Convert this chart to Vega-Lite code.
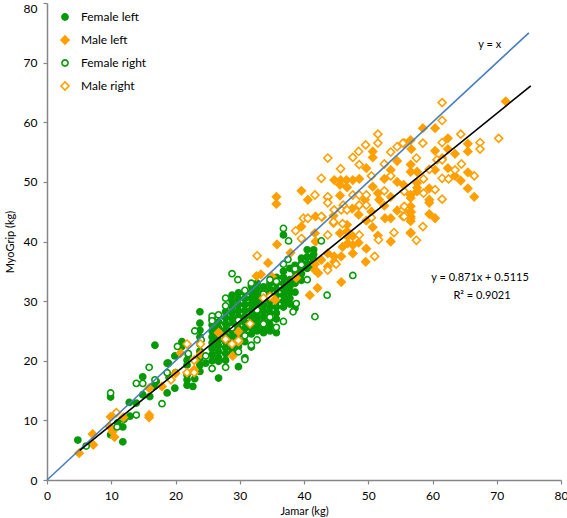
{
"$schema":"https://vega.github.io/schema/vega-lite/v6.json",
"width":514,"height":477,
"autosize":"none",
"padding":{"left":47,"top":3,"right":6,"bottom":38},
"config":{"view":{"stroke":null},"font":"Lato",
 "axis":{"grid":false,"domainColor":"#868686","domainWidth":1.5,"tickColor":"#868686","tickSize":4,"tickWidth":1.2,"labelFont":"Lato","labelFontSize":12,"labelColor":"#000000","titleFont":"Lato","titleFontSize":11,"titleFontWeight":"normal","titleColor":"#000000"}
},
"datasets":{
"names":[{"s":"FL","name":"Female left"},{"s":"ML","name":"Male left"},{"s":"FR","name":"Female right"},{"s":"MR","name":"Male right"}],
"pts":[
{"s":"FL","x":4.8,"y":6.7},{"s":"FL","x":9.9,"y":13.9},{"s":"FL","x":9.9,"y":7.6},{"s":"FL","x":11.8,"y":8.9},{"s":"FL","x":11.8,"y":6.4},{"s":"FL","x":12.8,"y":13.0},{"s":"FL","x":12.9,"y":10.7},{"s":"FL","x":13.9,"y":12.9},{"s":"FL","x":14.9,"y":14.3},{"s":"FL","x":14.9,"y":17.3},{"s":"FL","x":16.8,"y":22.6},{"s":"FL","x":16.7,"y":15.7},{"s":"FL","x":18.7,"y":19.6},{"s":"FL","x":18.7,"y":14.6},{"s":"FL","x":19.9,"y":15.4},{"s":"FL","x":19.9,"y":20.8},{"s":"FL","x":21,"y":23.2},{"s":"FL","x":21,"y":22.4},{"s":"FL","x":21.8,"y":20.1},{"s":"FL","x":21.8,"y":19.3},{"s":"FL","x":21.8,"y":17.6},{"s":"FL","x":21.8,"y":16.8},{"s":"FL","x":21.8,"y":15.9},{"s":"FL","x":22.7,"y":15.7},{"s":"FL","x":18.9,"y":19.6},{"s":"FL","x":12,"y":10.2},{"s":"FL","x":11,"y":9.6},{"s":"FL","x":16,"y":14},{"s":"FL","x":17,"y":16.5},{"s":"FL","x":20,"y":18},{"s":"FL","x":19,"y":17.2},{"s":"FL","x":22,"y":21},{"s":"FL","x":23,"y":17},
{"s":"FL","x":23.8,"y":28.2},{"s":"FL","x":23.8,"y":26.3},{"s":"FL","x":23.8,"y":25.1},{"s":"FL","x":23.8,"y":24},{"s":"FL","x":23.8,"y":22.8},{"s":"FL","x":23.8,"y":21.6},{"s":"FL","x":23.8,"y":20.4},{"s":"FL","x":23.8,"y":19.3},{"s":"FL","x":23.8,"y":18.2},{"s":"FL","x":24.7,"y":19.6},
{"s":"FL","x":25.7,"y":27},{"s":"FL","x":25.7,"y":26},{"s":"FL","x":25.7,"y":25},{"s":"FL","x":25.7,"y":24},{"s":"FL","x":25.7,"y":23},{"s":"FL","x":25.7,"y":22},{"s":"FL","x":25.7,"y":21},{"s":"FL","x":25.7,"y":20},
{"s":"FL","x":26.7,"y":26.5},{"s":"FL","x":26.7,"y":25.5},{"s":"FL","x":26.7,"y":24.5},{"s":"FL","x":26.7,"y":23.5},{"s":"FL","x":26.7,"y":22.5},{"s":"FL","x":26.7,"y":21.5},{"s":"FL","x":26.7,"y":20.5},{"s":"FL","x":26.7,"y":19.9},{"s":"FL","x":26.7,"y":17.1},
{"s":"FL","x":27.8,"y":28.2},{"s":"FL","x":27.8,"y":27.2},{"s":"FL","x":27.8,"y":26.2},{"s":"FL","x":27.8,"y":25.2},{"s":"FL","x":27.8,"y":24.2},{"s":"FL","x":27.8,"y":23.2},{"s":"FL","x":27.8,"y":22.2},{"s":"FL","x":27.8,"y":21.2},{"s":"FL","x":27.8,"y":20.1},
{"s":"FL","x":28.8,"y":31.0},{"s":"FL","x":28.8,"y":30.0},{"s":"FL","x":28.8,"y":29.0},{"s":"FL","x":28.8,"y":28.0},{"s":"FL","x":28.8,"y":27.0},{"s":"FL","x":28.8,"y":26.0},{"s":"FL","x":28.8,"y":25.0},{"s":"FL","x":28.8,"y":24.0},{"s":"FL","x":28.8,"y":23.0},{"s":"FL","x":28.8,"y":22.0},{"s":"FL","x":28.8,"y":21.3},
{"s":"FL","x":29.8,"y":31.4},{"s":"FL","x":29.8,"y":30.4},{"s":"FL","x":29.8,"y":29.4},{"s":"FL","x":29.8,"y":28.4},{"s":"FL","x":29.8,"y":27.4},{"s":"FL","x":29.8,"y":26.4},{"s":"FL","x":29.8,"y":25.4},{"s":"FL","x":29.8,"y":24.4},{"s":"FL","x":29.8,"y":23.4},{"s":"FL","x":29.8,"y":22.4},{"s":"FL","x":29.8,"y":19.0},
{"s":"FL","x":30.8,"y":31.4},{"s":"FL","x":30.8,"y":30.4},{"s":"FL","x":30.8,"y":29.4},{"s":"FL","x":30.8,"y":28.4},{"s":"FL","x":30.8,"y":27.4},{"s":"FL","x":30.8,"y":26.4},{"s":"FL","x":30.8,"y":25.4},{"s":"FL","x":30.8,"y":24.4},{"s":"FL","x":30.8,"y":23.2},{"s":"FL","x":30.8,"y":20.5},
{"s":"FL","x":31.8,"y":32.5},{"s":"FL","x":31.8,"y":31.5},{"s":"FL","x":31.8,"y":30.5},{"s":"FL","x":31.8,"y":29.5},{"s":"FL","x":31.8,"y":28.5},{"s":"FL","x":31.8,"y":27.5},{"s":"FL","x":31.8,"y":26.5},{"s":"FL","x":31.8,"y":25.5},{"s":"FL","x":31.8,"y":24.5},{"s":"FL","x":31.8,"y":22.3},
{"s":"FL","x":32.7,"y":33.0},{"s":"FL","x":32.7,"y":32.0},{"s":"FL","x":32.7,"y":31.0},{"s":"FL","x":32.7,"y":30.0},{"s":"FL","x":32.7,"y":29.0},{"s":"FL","x":32.7,"y":28.0},{"s":"FL","x":32.7,"y":27.0},{"s":"FL","x":32.7,"y":26.0},{"s":"FL","x":32.7,"y":25.0},
{"s":"FL","x":33.7,"y":32.4},{"s":"FL","x":33.7,"y":31.4},{"s":"FL","x":33.7,"y":30.4},{"s":"FL","x":33.7,"y":29.4},{"s":"FL","x":33.7,"y":28.4},{"s":"FL","x":33.7,"y":27.4},{"s":"FL","x":33.7,"y":26.4},{"s":"FL","x":33.7,"y":25.4},{"s":"FL","x":33.7,"y":24.7},
{"s":"FL","x":34.7,"y":33.0},{"s":"FL","x":34.7,"y":32.0},{"s":"FL","x":34.7,"y":31.0},{"s":"FL","x":34.7,"y":30.0},{"s":"FL","x":34.7,"y":29.0},{"s":"FL","x":34.7,"y":28.0},{"s":"FL","x":34.7,"y":27.0},{"s":"FL","x":34.7,"y":26.0},{"s":"FL","x":34.7,"y":25.0},
{"s":"FL","x":35.7,"y":34.0},{"s":"FL","x":35.7,"y":33.0},{"s":"FL","x":35.7,"y":32.0},{"s":"FL","x":35.7,"y":31.0},{"s":"FL","x":35.7,"y":30.0},{"s":"FL","x":35.7,"y":29.0},{"s":"FL","x":35.7,"y":28.0},{"s":"FL","x":35.7,"y":27.0},{"s":"FL","x":35.7,"y":24.7},
{"s":"FL","x":36.8,"y":35.0},{"s":"FL","x":36.8,"y":34.0},{"s":"FL","x":36.8,"y":33.0},{"s":"FL","x":36.8,"y":32.0},{"s":"FL","x":36.8,"y":31.0},{"s":"FL","x":36.8,"y":30.0},{"s":"FL","x":36.8,"y":29.0},{"s":"FL","x":36.8,"y":41.1},
{"s":"FL","x":37.8,"y":35.5},{"s":"FL","x":37.8,"y":33.6},{"s":"FL","x":37.8,"y":32.5},{"s":"FL","x":37.8,"y":31.5},{"s":"FL","x":37.8,"y":30.5},{"s":"FL","x":37.8,"y":29.5},
{"s":"FL","x":38.6,"y":36.0},{"s":"FL","x":38.6,"y":35.0},{"s":"FL","x":38.6,"y":34.0},{"s":"FL","x":38.6,"y":33.0},{"s":"FL","x":38.6,"y":31.5},{"s":"FL","x":38.6,"y":28.8},
{"s":"FL","x":39.6,"y":37.2},{"s":"FL","x":39.6,"y":36.3},{"s":"FL","x":39.6,"y":35.5},{"s":"FL","x":39.6,"y":34.6},{"s":"FL","x":39.6,"y":33.5},
{"s":"FL","x":40.5,"y":38.6},{"s":"FL","x":40.5,"y":37.4},{"s":"FL","x":40.5,"y":36.3},{"s":"FL","x":40.5,"y":35.5},
{"s":"FL","x":41.5,"y":38.6},{"s":"FL","x":41.5,"y":37.8},{"s":"FL","x":41.5,"y":36.9},{"s":"FL","x":41.5,"y":36.1},{"s":"FL","x":41.5,"y":35.6},
{"s":"ML","x":5.0,"y":4.5},{"s":"ML","x":7.1,"y":7.7},{"s":"ML","x":7.2,"y":5.9},{"s":"ML","x":9.8,"y":8.9},{"s":"ML","x":10.2,"y":8.1},{"s":"ML","x":10.5,"y":7.2},{"s":"ML","x":11.9,"y":10.5},{"s":"ML","x":9.9,"y":10.6},{"s":"ML","x":15.9,"y":15.4},{"s":"ML","x":15.9,"y":10.9},{"s":"ML","x":15.9,"y":10.5},{"s":"ML","x":17.9,"y":15.7},{"s":"ML","x":20.8,"y":21.3},{"s":"ML","x":22.9,"y":18.5},{"s":"ML","x":23.9,"y":21.1},{"s":"ML","x":23.0,"y":20.1},{"s":"ML","x":20.0,"y":17.9},{"s":"ML","x":26.7,"y":24.7},{"s":"ML","x":28.9,"y":20.8},{"s":"ML","x":29.8,"y":24.9},{"s":"ML","x":29.8,"y":23.2},{"s":"ML","x":32.6,"y":34.2},{"s":"ML","x":33.3,"y":34.5},{"s":"ML","x":35.0,"y":34.1},{"s":"ML","x":34.4,"y":36.4},{"s":"ML","x":35.5,"y":30.2},{"s":"ML","x":35.8,"y":39.5},{"s":"ML","x":35.7,"y":46.3},{"s":"ML","x":35.7,"y":47.5},{"s":"ML","x":37.9,"y":38.1},{"s":"ML","x":38.8,"y":33.9},{"s":"ML","x":39.7,"y":40.4},{"s":"ML","x":39.6,"y":48.5},{"s":"ML","x":40.9,"y":31.0},{"s":"ML","x":41.7,"y":35.2},{"s":"ML","x":42.2,"y":34.7},{"s":"ML","x":42.1,"y":32.2},{"s":"ML","x":41.8,"y":40.0},{"s":"ML","x":41.7,"y":41.4},{"s":"ML","x":41.8,"y":44.2},{"s":"ML","x":42.8,"y":44.1},{"s":"ML","x":44.6,"y":44.3},{"s":"ML","x":44.6,"y":43.1},{"s":"ML","x":43.7,"y":47.4},{"s":"ML","x":45.6,"y":47.7},{"s":"ML","x":44.7,"y":50.3},{"s":"ML","x":45.7,"y":50.3},{"s":"ML","x":46.6,"y":50.3},{"s":"ML","x":47.6,"y":50.3},{"s":"ML","x":48.6,"y":50.5},{"s":"ML","x":45.6,"y":49.5},{"s":"ML","x":46.7,"y":49.1},{"s":"ML","x":44.7,"y":37.5},{"s":"ML","x":44.7,"y":36.6},{"s":"ML","x":45.8,"y":37.5},{"s":"ML","x":46.0,"y":39.1},{"s":"ML","x":45.8,"y":33.2},{"s":"ML","x":46.8,"y":40.8},{"s":"ML","x":46.8,"y":39.7},{"s":"ML","x":47.6,"y":39.4},{"s":"ML","x":47.6,"y":38.0},{"s":"ML","x":46.7,"y":42.8},{"s":"ML","x":46.7,"y":41.7},{"s":"ML","x":45.6,"y":41.4},{"s":"ML","x":47.6,"y":40.9},{"s":"ML","x":49.7,"y":43.5},{"s":"ML","x":50.7,"y":42.4},{"s":"ML","x":49.7,"y":38.8},{"s":"ML","x":49.6,"y":36.6},{"s":"ML","x":43.7,"y":38.0},{"s":"ML","x":42.7,"y":36.9},{"s":"ML","x":43.7,"y":35.8},{"s":"ML","x":41.7,"y":36.2},{"s":"ML","x":50.7,"y":55.1},{"s":"ML","x":50.7,"y":54.1},{"s":"ML","x":49.7,"y":52.3},{"s":"ML","x":51.5,"y":48.1},{"s":"ML","x":51.7,"y":47.0},{"s":"ML","x":50.7,"y":49.2},{"s":"ML","x":53.5,"y":40.0},{"s":"ML","x":52.6,"y":43.9},{"s":"ML","x":53.5,"y":43.9},{"s":"ML","x":56.6,"y":45.0},{"s":"ML","x":56.6,"y":43.9},{"s":"ML","x":56.6,"y":41.4},{"s":"ML","x":56.7,"y":55.5},{"s":"ML","x":56.6,"y":57.0},{"s":"ML","x":55.6,"y":56.5},{"s":"ML","x":58.5,"y":59.0},{"s":"ML","x":60.4,"y":59.0},{"s":"ML","x":62.4,"y":57.3},{"s":"ML","x":65.5,"y":56.4},{"s":"ML","x":65.5,"y":55.1},{"s":"ML","x":62.4,"y":55.5},{"s":"ML","x":63.5,"y":54.7},{"s":"ML","x":56.6,"y":52.9},{"s":"ML","x":56.6,"y":51.7},{"s":"ML","x":57.6,"y":51.7},{"s":"ML","x":60.4,"y":52.0},{"s":"ML","x":62.4,"y":52.3},{"s":"ML","x":63.5,"y":51.0},{"s":"ML","x":65.5,"y":51.6},{"s":"ML","x":57.6,"y":49.8},{"s":"ML","x":57.6,"y":49.0},{"s":"ML","x":57.6,"y":48.4},{"s":"ML","x":59.5,"y":48.9},{"s":"ML","x":65.5,"y":48.9},{"s":"ML","x":56.6,"y":47.8},{"s":"ML","x":56.6,"y":47.3},{"s":"ML","x":59.5,"y":47.0},{"s":"ML","x":59.5,"y":46.5},{"s":"ML","x":56.6,"y":45.9},{"s":"ML","x":56.6,"y":44.9},{"s":"ML","x":56.6,"y":44.2},{"s":"ML","x":56.6,"y":43.4},{"s":"ML","x":59.5,"y":44.6},{"s":"ML","x":60.4,"y":43.9},{"s":"ML","x":56.6,"y":41.5},{"s":"ML","x":71.4,"y":63.5},{"s":"ML","x":53.5,"y":47.5},{"s":"ML","x":54.5,"y":50.0},{"s":"ML","x":52.5,"y":46.0},{"s":"ML","x":53.5,"y":52.0},{"s":"ML","x":55.5,"y":49.5},{"s":"ML","x":48.5,"y":46.0},{"s":"ML","x":49.5,"y":47.0},{"s":"ML","x":50.5,"y":45.0},{"s":"ML","x":52.5,"y":50.5},{"s":"ML","x":54.5,"y":53.5},{"s":"ML","x":60.4,"y":55.2},{"s":"ML","x":61.5,"y":54.0},{"s":"ML","x":64.4,"y":50.2},{"s":"ML","x":66.5,"y":47.5},{"s":"ML","x":48.5,"y":44.5},{"s":"ML","x":47.5,"y":45.5},{"s":"ML","x":48.5,"y":39.8},{"s":"ML","x":51.5,"y":41.0},{"s":"ML","x":54.5,"y":45.2},{"s":"ML","x":39.6,"y":42.5},{"s":"ML","x":40.6,"y":47.0},
{"s":"FR","x":6.1,"y":5.7},{"s":"FR","x":9.9,"y":14.6},{"s":"FR","x":10.9,"y":8.9},{"s":"FR","x":13.9,"y":10.9},{"s":"FR","x":13.9,"y":16.2},{"s":"FR","x":14.9,"y":16.2},{"s":"FR","x":15.9,"y":18.9},{"s":"FR","x":16.8,"y":16.8},{"s":"FR","x":17.9,"y":12.8},{"s":"FR","x":18.7,"y":18.0},{"s":"FR","x":20.3,"y":22.4},{"s":"FR","x":22,"y":21.2},{"s":"FR","x":23,"y":25},{"s":"FR","x":24,"y":23.5},{"s":"FR","x":24.7,"y":20.8},{"s":"FR","x":25.7,"y":27.5},{"s":"FR","x":25.7,"y":26.7},{"s":"FR","x":26.7,"y":27.7},{"s":"FR","x":25.7,"y":18.7},{"s":"FR","x":27.8,"y":18.9},{"s":"FR","x":27.8,"y":30.5},{"s":"FR","x":27.8,"y":29.2},{"s":"FR","x":28.8,"y":34.6},{"s":"FR","x":29.7,"y":33.6},{"s":"FR","x":28.8,"y":25.5},{"s":"FR","x":29.8,"y":26.8},{"s":"FR","x":29.8,"y":21.5},{"s":"FR","x":30.8,"y":31.8},{"s":"FR","x":30.8,"y":24.2},{"s":"FR","x":30.8,"y":20.2},{"s":"FR","x":31.8,"y":33.0},{"s":"FR","x":31.8,"y":22.6},{"s":"FR","x":32.7,"y":28.5},{"s":"FR","x":32.7,"y":23.5},{"s":"FR","x":33.7,"y":31.2},{"s":"FR","x":33.7,"y":26.2},{"s":"FR","x":34.7,"y":33.6},{"s":"FR","x":34.7,"y":27.3},{"s":"FR","x":35.7,"y":25.6},{"s":"FR","x":35.7,"y":33.3},{"s":"FR","x":36.8,"y":26.6},{"s":"FR","x":36.8,"y":36.2},{"s":"FR","x":36.8,"y":42.2},{"s":"FR","x":37.6,"y":40.1},{"s":"FR","x":37.5,"y":37.0},{"s":"FR","x":38.8,"y":29.6},{"s":"FR","x":38.3,"y":28.2},{"s":"FR","x":38.6,"y":35.4},{"s":"FR","x":39.6,"y":36.1},{"s":"FR","x":40.5,"y":33.6},{"s":"FR","x":41.7,"y":27.4},{"s":"FR","x":42.7,"y":40.1},{"s":"FR","x":43.6,"y":31.0},{"s":"FR","x":47.6,"y":34.3},
{"s":"MR","x":10.8,"y":11.3},{"s":"MR","x":19.3,"y":16.8},{"s":"MR","x":21.8,"y":22.8},{"s":"MR","x":21.8,"y":18.0},{"s":"MR","x":22.9,"y":18.0},{"s":"MR","x":22.9,"y":20.1},{"s":"MR","x":23.9,"y":22.8},{"s":"MR","x":27.8,"y":23.6},{"s":"MR","x":28.8,"y":22.8},{"s":"MR","x":29.8,"y":23.4},{"s":"MR","x":31.6,"y":26.2},{"s":"MR","x":33.7,"y":30.5},{"s":"MR","x":34.7,"y":30.8},{"s":"MR","x":32.7,"y":37.6},{"s":"MR","x":38.7,"y":41.8},{"s":"MR","x":39.6,"y":40.5},{"s":"MR","x":39.9,"y":43.9},{"s":"MR","x":40.6,"y":43.9},{"s":"MR","x":42.7,"y":44.2},{"s":"MR","x":43.7,"y":41.1},{"s":"MR","x":41.7,"y":47.8},{"s":"MR","x":43.7,"y":47.5},{"s":"MR","x":43.7,"y":46.5},{"s":"MR","x":42.7,"y":50.6},{"s":"MR","x":43.7,"y":54.0},{"s":"MR","x":45.7,"y":52.2},{"s":"MR","x":47.6,"y":54.1},{"s":"MR","x":48.5,"y":55.1},{"s":"MR","x":49.6,"y":56.2},{"s":"MR","x":48.6,"y":52.9},{"s":"MR","x":51.5,"y":58.0},{"s":"MR","x":51.5,"y":56.5},{"s":"MR","x":54.5,"y":55.9},{"s":"MR","x":55.4,"y":56.5},{"s":"MR","x":47.6,"y":47.8},{"s":"MR","x":48.6,"y":47.8},{"s":"MR","x":49.7,"y":47.8},{"s":"MR","x":46.1,"y":46.1},{"s":"MR","x":48.6,"y":46.1},{"s":"MR","x":49.7,"y":46.1},{"s":"MR","x":44.7,"y":45.3},{"s":"MR","x":45.8,"y":45.3},{"s":"MR","x":46.7,"y":45.3},{"s":"MR","x":44.6,"y":43.3},{"s":"MR","x":48.6,"y":41.1},{"s":"MR","x":51.6,"y":40.3},{"s":"MR","x":55.4,"y":45.3},{"s":"MR","x":55.4,"y":44.2},{"s":"MR","x":58.5,"y":42.5},{"s":"MR","x":43.7,"y":35.2},{"s":"MR","x":61.5,"y":63.3},{"s":"MR","x":61.5,"y":60.3},{"s":"MR","x":64.4,"y":58.0},{"s":"MR","x":61.5,"y":56.6},{"s":"MR","x":67.4,"y":56.6},{"s":"MR","x":67.4,"y":55.5},{"s":"MR","x":70.3,"y":57.3},{"s":"MR","x":60.7,"y":53.7},{"s":"MR","x":61.5,"y":53.7},{"s":"MR","x":59.5,"y":52.1},{"s":"MR","x":63.5,"y":52.0},{"s":"MR","x":66.5,"y":51.0},{"s":"MR","x":61.5,"y":50.6},{"s":"MR","x":62.5,"y":50.5},{"s":"MR","x":58.6,"y":50.5},{"s":"MR","x":60.4,"y":48.7},{"s":"MR","x":58.6,"y":48.1},{"s":"MR","x":61.5,"y":47.1},{"s":"MR","x":55.6,"y":48.4},{"s":"MR","x":55.6,"y":45.9},{"s":"MR","x":55.6,"y":44.2},{"s":"MR","x":57.5,"y":40.2},{"s":"MR","x":52.5,"y":53.0},{"s":"MR","x":53.5,"y":55.0},{"s":"MR","x":57.5,"y":54.0},{"s":"MR","x":58.5,"y":56.5},{"s":"MR","x":50.5,"y":51.0},{"s":"MR","x":54.0,"y":41.5},{"s":"MR","x":46.0,"y":43.0},{"s":"MR","x":50.5,"y":44.0},{"s":"MR","x":52.5,"y":48.5},{"s":"MR","x":53.5,"y":51.0},{"s":"MR","x":45.0,"y":36.2},{"s":"MR","x":51.0,"y":37.5},{"s":"MR","x":64.5,"y":53.0}
],
"lines":[{"k":"id","x":0,"y":0},{"k":"id","x":75,"y":75},{"k":"fit","x":5.1,"y":4.95},{"k":"fit","x":75.3,"y":66.1}],
"notes":[{"t":"y = x","x":68.9,"y":73.0},{"t":"y = 0.871x + 0.5115","x":67.4,"y":33.9},{"t":"R² = 0.9021","x":67.7,"y":30.9}]
},
"layer":[
{"data":{"name":"pts"},
 "transform":[{"lookup":"s","from":{"data":{"name":"names"},"key":"s","fields":["name"]}}],
 "mark":{"type":"point","filled":true,"opacity":1,"strokeWidth":1.6,"size":38},
 "encoding":{
  "x":{"field":"x","type":"quantitative","scale":{"domain":[0,80],"nice":false},
       "axis":{"title":"Jamar (kg)","values":[0,10,20,30,40,50,60,70,80],"labelFlush":false,"labelPadding":6,"titlePadding":4}},
  "y":{"field":"y","type":"quantitative","scale":{"domain":[0,80],"nice":false},
       "axis":{"title":"MyoGrip (kg)","values":[0,10,20,30,40,50,60,70,80],"labelFlush":false,"labelPadding":6,"titlePadding":8,
               "labelBaseline":{"condition":{"test":"datum.value == 80","value":"top"},"value":"middle"}}},
  "shape":{"field":"name","type":"nominal","scale":{"domain":["Female left","Male left","Female right","Male right"],"range":["circle","M-1.3,0L0,-1.3L1.3,0L0,1.3Z","circle","M-1.3,0L0,-1.3L1.3,0L0,1.3Z"]},
           "legend":{"title":null,"orient":"none","legendX":12,"legendY":8,"padding":0,"labelFont":"Lato","labelFontSize":12,"labelColor":"#000000","rowPadding":8,"labelOffset":10,"symbolSize":38,"symbolStrokeWidth":1.6}},
  "fill":{"field":"name","type":"nominal","scale":{"domain":["Female left","Male left","Female right","Male right"],"range":["#069a06","#ffa000","#ffffff","#ffffff"]},
           "legend":{"title":null,"orient":"none","legendX":12,"legendY":8,"padding":0,"labelFont":"Lato","labelFontSize":12,"labelColor":"#000000","rowPadding":8,"labelOffset":10,"symbolSize":38,"symbolStrokeWidth":1.6}},
  "stroke":{"field":"name","type":"nominal","scale":{"domain":["Female left","Male left","Female right","Male right"],"range":["#069a06","#ffa000","#069a06","#ffa000"]},
           "legend":{"title":null,"orient":"none","legendX":12,"legendY":8,"padding":0,"labelFont":"Lato","labelFontSize":12,"labelColor":"#000000","rowPadding":8,"labelOffset":10,"symbolSize":38,"symbolStrokeWidth":1.6}}
 }},
{"data":{"name":"lines"},"transform":[{"filter":"datum.k == 'id'"}],
 "mark":{"type":"line","color":"#4a7ebb","strokeWidth":1.6},
 "encoding":{"x":{"field":"x","type":"quantitative"},"y":{"field":"y","type":"quantitative"}}},
{"data":{"name":"lines"},"transform":[{"filter":"datum.k == 'fit'"}],
 "mark":{"type":"line","color":"#000000","strokeWidth":1.6},
 "encoding":{"x":{"field":"x","type":"quantitative"},"y":{"field":"y","type":"quantitative"}}},
{"data":{"name":"notes"},
 "mark":{"type":"text","font":"Lato","fontSize":11,"color":"#000000","align":"center","baseline":"middle"},
 "encoding":{"x":{"field":"x","type":"quantitative"},"y":{"field":"y","type":"quantitative"},"text":{"field":"t"}}}
]
}
